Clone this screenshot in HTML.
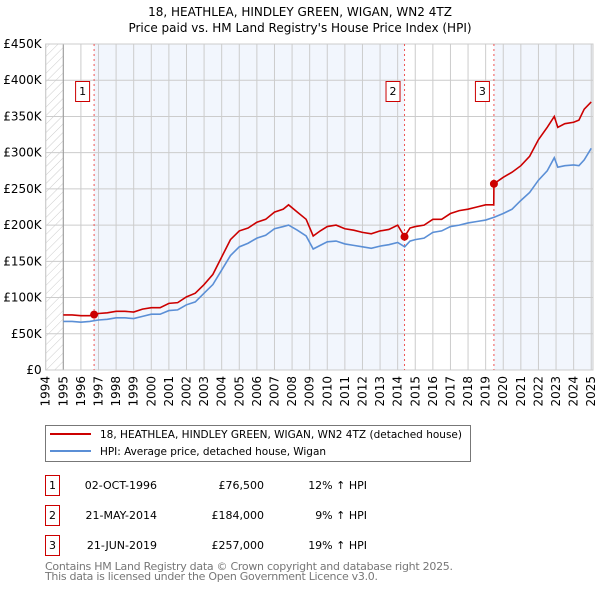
<!DOCTYPE html>
<html><head><meta charset="utf-8"><style>
body{margin:0;background:#fff;font-family:"DejaVu Sans","Liberation Sans",sans-serif;}
svg text{font-family:"DejaVu Sans","Liberation Sans",sans-serif;}
</style></head><body>
<svg id="c" width="600" height="590" xmlns="http://www.w3.org/2000/svg">
<defs><pattern id="hatch" width="6" height="6" patternUnits="userSpaceOnUse" patternTransform="rotate(45)"><line x1="0" y1="0" x2="0" y2="6" stroke="#ccc" stroke-width="1"/></pattern></defs>
<text x="300" y="16" text-anchor="middle" font-size="12">18, HEATHLEA, HINDLEY GREEN, WIGAN, WN2 4TZ</text>
<text x="300" y="32" text-anchor="middle" font-size="12">Price paid vs. HM Land Registry's House Price Index (HPI)</text>
<g id="plot"></g>
<g>
<rect x="45.5" y="425.5" width="425" height="36" fill="#fff" stroke="#777"/>
<line x1="50" y1="434" x2="91" y2="434" stroke="#cc0000" stroke-width="2"/>
<text x="100" y="438" font-size="10.5" textLength="362">18, HEATHLEA, HINDLEY GREEN, WIGAN, WN2 4TZ (detached house)</text>
<line x1="50" y1="451" x2="91" y2="451" stroke="#5b8fd6" stroke-width="2"/>
<text x="100" y="455" font-size="10.5" textLength="226">HPI: Average price, detached house, Wigan</text>
</g>
<g font-size="11">
<rect x="45.5" y="475.5" width="14" height="20" fill="none" stroke="#cc0000"/><text x="52.5" y="489" text-anchor="middle">1</text>
<text x="157" y="489" text-anchor="end">02-OCT-1996</text><text x="264" y="489" text-anchor="end">£76,500</text><text x="367" y="489" text-anchor="end">12% ↑ HPI</text>
<rect x="45.5" y="505.5" width="14" height="20" fill="none" stroke="#cc0000"/><text x="52.5" y="519" text-anchor="middle">2</text>
<text x="157" y="519" text-anchor="end">21-MAY-2014</text><text x="264" y="519" text-anchor="end">£184,000</text><text x="367" y="519" text-anchor="end">9% ↑ HPI</text>
<rect x="45.5" y="535.5" width="14" height="20" fill="none" stroke="#cc0000"/><text x="52.5" y="549" text-anchor="middle">3</text>
<text x="157" y="549" text-anchor="end">21-JUN-2019</text><text x="264" y="549" text-anchor="end">£257,000</text><text x="367" y="549" text-anchor="end">19% ↑ HPI</text>
</g>
<text x="45" y="570" font-size="11" fill="#777" textLength="408">Contains HM Land Registry data © Crown copyright and database right 2025.</text>
<text x="45" y="580" font-size="11" fill="#777" textLength="333">This data is licensed under the Open Government Licence v3.0.</text>
</svg>
<script>
const yTicks=[0,50,100,150,200,250,300,350,400,450];
const yLabels=["£0","£50K","£100K","£150K","£200K","£250K","£300K","£350K","£400K","£450K"];
const xYears=[1994,1995,1996,1997,1998,1999,2000,2001,2002,2003,2004,2005,2006,2007,2008,2009,2010,2011,2012,2013,2014,2015,2016,2017,2018,2019,2020,2021,2022,2023,2024,2025];
const hpiT=[1995,1995.5,1996,1996.5,1997,1997.5,1998,1998.5,1999,1999.5,2000,2000.5,2001,2001.5,2002,2002.5,2003,2003.5,2004,2004.5,2005,2005.5,2006,2006.5,2007,2007.5,2007.8,2008.3,2008.8,2009.2,2009.6,2010,2010.5,2011,2011.5,2012,2012.5,2013,2013.5,2014,2014.4,2014.7,2015,2015.5,2016,2016.5,2017,2017.5,2018,2018.5,2019,2019.5,2020,2020.5,2021,2021.5,2022,2022.5,2022.9,2023.1,2023.5,2024,2024.3,2024.6,2025];
const hpiV=[67,67,66,67,69,70,72,72,71,74,77,77,82,83,90,94,106,118,138,158,170,175,182,186,195,198,200,193,185,167,172,177,178,174,172,170,168,171,173,176,170,178,180,182,190,192,198,200,203,205,207,211,216,222,234,245,262,275,293,280,282,283,282,290,306];
const redT=[1995,1995.5,1996,1996.5,1996.75,1997,1997.5,1998,1998.5,1999,1999.5,2000,2000.5,2001,2001.5,2002,2002.5,2003,2003.5,2004,2004.5,2005,2005.5,2006,2006.5,2007,2007.5,2007.8,2008.3,2008.8,2009.2,2009.6,2010,2010.5,2011,2011.5,2012,2012.5,2013,2013.5,2014,2014.39,2014.7,2015,2015.5,2016,2016.5,2017,2017.5,2018,2018.5,2019,2019.46,2019.47,2020,2020.5,2021,2021.5,2022,2022.5,2022.9,2023.1,2023.5,2024,2024.3,2024.6,2025];
const redV=[76,76,75,75,76.5,78,79,81,81,80,84,86,86,92,93,101,106,118,132,156,180,192,196,204,208,218,222,228,218,208,185,192,198,200,195,193,190,188,192,194,200,184,196,198,200,208,208,216,220,222,225,228,228,257,266,273,282,295,318,335,350,335,340,342,345,360,370];
const sales=[{t:1996.75,v:76.5,n:"1"},{t:2014.39,v:184,n:"2"},{t:2019.47,v:257,n:"3"}];
const X0=45.7,X1=593,Y0=370,Y1=44;
const xs=t=>X0+(t-1994)*(X1-X0)/31.1;
const ys=v=>Y0-v*(Y0-Y1)/450;
const NS="http://www.w3.org/2000/svg";
const g=document.getElementById('plot');
function mk(tag,a){const e=document.createElementNS(NS,tag);for(const k in a)e.setAttribute(k,a[k]);g.appendChild(e);return e;}
let e;
e=mk('rect',{x:xs(1996.75),y:Y1,width:xs(2014.39)-xs(1996.75),height:Y0-Y1,fill:'#f2f6fd'});


e=mk('rect',{x:xs(2019.47),y:Y1,width:X1-xs(2019.47),height:Y0-Y1,fill:'#f2f6fd'});


e=mk('rect',{x:X0,y:Y1,width:xs(1995)-X0,height:Y0-Y1,fill:'url(#hatch)'});


yTicks.forEach((v,i)=>{
 e=mk('line',{x1:X0,x2:X1,y1:ys(v),y2:ys(v),stroke:'#ccc'});
 
 
 e=mk('text',{x:X0-4,y:ys(v)+4,'text-anchor':'end','font-size':'12'});e.textContent=yLabels[i];
 
 
});
xYears.forEach(y=>{
 e=mk('line',{x1:xs(y),x2:xs(y),y1:Y1,y2:Y0,stroke:'#ccc'});
 
 
 e=mk('text',{x:0,y:0,'font-size':'12','text-anchor':'end',transform:`translate(${xs(y)+4},${Y0+6}) rotate(-90)`});e.textContent=y;
 
 
});
e=mk('line',{x1:xs(1995),x2:xs(1995),y1:Y1,y2:Y0,stroke:'#999'});


e=mk('rect',{x:X0,y:Y1,width:X1-X0,height:Y0-Y1,fill:'none',stroke:'#ccc'});


sales.forEach(s=>{
 e=mk('line',{x1:xs(s.t),x2:xs(s.t),y1:Y1,y2:Y0,stroke:'#ee5555','stroke-dasharray':'2,3'});
 
 
});
e=mk('polyline',{points:hpiT.map((t,i)=>xs(t)+','+ys(hpiV[i])).join(' '),fill:'none',stroke:'#5b8fd6','stroke-width':1.6});


e=mk('polyline',{points:redT.map((t,i)=>xs(t)+','+ys(redV[i])).join(' '),fill:'none',stroke:'#cc0000','stroke-width':1.6});


sales.forEach(s=>{
 e=mk('circle',{cx:xs(s.t),cy:ys(s.v),r:4,fill:'#cc0000'});
 
 
 e=mk('rect',{x:xs(s.t)-18.5,y:81.5,width:14,height:20,fill:'#fff',stroke:'#cc0000'});
 
 
 e=mk('text',{x:xs(s.t)-11.5,y:95,'text-anchor':'middle','font-size':'11'});e.textContent=s.n;
 
 
});
</script>
</body></html>
